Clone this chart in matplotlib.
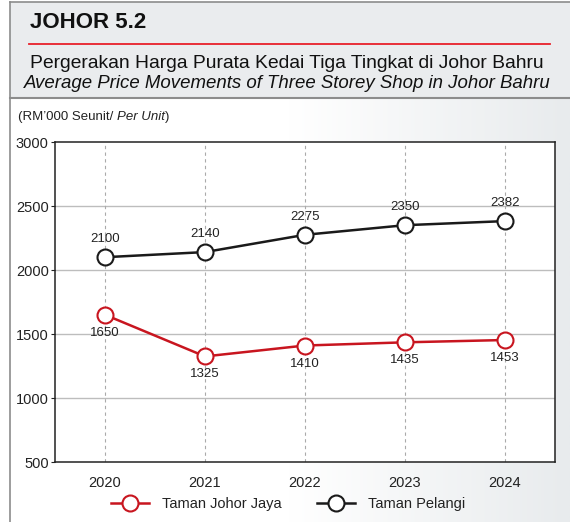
import numpy as np
import matplotlib
matplotlib.use("Agg")
import matplotlib.pyplot as plt
from matplotlib.patches import Rectangle
from matplotlib.lines import Line2D
from matplotlib.colors import LinearSegmentedColormap

plt.rcParams['font.family'] = ['Liberation Sans', 'DejaVu Sans']

years = ['2020', '2021', '2022', '2023', '2024']
johor_jaya = [1650, 1325, 1410, 1435, 1453]
pelangi = [2100, 2140, 2275, 2350, 2382]
series_names = ['Taman Johor Jaya', 'Taman Pelangi']
yticks = [500, 1000, 1500, 2000, 2500, 3000]

W, H = 570, 522
fig = plt.figure(figsize=(W / 100, H / 100), dpi=100)

def fx(px):
    return px / W

def fy(py):
    return 1 - py / H

# background
bg = fig.add_axes([0, 0, 1, 1], zorder=-10)
bg.set_xlim(0, W)
bg.set_ylim(H, 0)
bg.axis('off')
grad = np.linspace(0, 1, 256)[None, :]
cmap = LinearSegmentedColormap.from_list('g', ['#ffffff', '#ffffff', '#e8ebed'])
bg.imshow(grad, extent=[10, W, H, 98], cmap=cmap, aspect='auto', zorder=0)
bg.add_patch(Rectangle((10, 2), W, 96, facecolor='#eaecee', edgecolor='none', zorder=1))
bg.plot([10, W], [2, 2], color='#8c8c8c', lw=1.2, zorder=2)
bg.plot([10, W], [98, 98], color='#8c8c8c', lw=1.5, zorder=2)
bg.plot([10, 10], [2, H], color='#8c8c8c', lw=1.2, zorder=2)
bg.plot([29, 550], [44, 44], color='#e8202a', lw=1.3, zorder=2)

bg.text(30, 22, 'JOHOR 5.2', fontsize=16, fontweight='bold', color='#111111',
        ha='left', va='center', zorder=3)
bg.text(287, 64, 'Pergerakan Harga Purata Kedai Tiga Tingkat di Johor Bahru',
        fontsize=13.9, color='#111111', ha='center', va='center', zorder=3)
bg.text(287, 83, 'Average Price Movements of Three Storey Shop in Johor Bahru',
        fontsize=13.4, style='italic', color='#111111', ha='center', va='center', zorder=3)

fs_unit = 9.5
t1 = bg.text(18, 117, '(RM\u2019000 Seunit/ ', fontsize=fs_unit, color='#222222',
             ha='left', va='center', zorder=3)
fig.canvas.draw()
inv = bg.transData.inverted()
bb = t1.get_window_extent()
xd = inv.transform((bb.x1, bb.y0))[0]
t2 = bg.text(xd, 117, 'Per Unit', fontsize=fs_unit, style='italic', color='#222222',
             ha='left', va='center', zorder=3)
fig.canvas.draw()
bb2 = t2.get_window_extent()
xd2 = inv.transform((bb2.x1, bb2.y0))[0]
bg.text(xd2, 117, ')', fontsize=fs_unit, color='#222222', ha='left', va='center', zorder=3)

# main axes
L, R, T, B = 55, 555, 142, 462
ax = fig.add_axes([fx(L), fy(B), fx(R - L), (B - T) / H])
ax.set_facecolor('white')
x = np.arange(len(years))
red = '#c8151f'
black = '#1a1a1a'
ax.plot(x, johor_jaya, color=red, lw=1.8, marker='o', ms=11.5, mfc='white',
        mec=red, mew=1.5, zorder=4)
ax.plot(x, pelangi, color=black, lw=1.8, marker='o', ms=11.5, mfc='white',
        mec=black, mew=1.5, zorder=4)
for xi, v in zip(x, pelangi):
    ax.annotate(str(v), (xi, v), xytext=(0, 13), textcoords='offset points',
                ha='center', va='center', fontsize=9.5, color='#222222')
for xi, v in zip(x, johor_jaya):
    ax.annotate(str(v), (xi, v), xytext=(0, -13), textcoords='offset points',
                ha='center', va='center', fontsize=9.5, color='#222222')

ax.set_xlim(-0.5, 4.5)
ax.set_ylim(500, 3000)
ax.set_yticks(yticks)
ax.set_xticks(x)
ax.set_xticklabels(years)
ax.tick_params(axis='x', length=0, pad=10, labelsize=10.5, colors='#222222')
ax.tick_params(axis='y', length=3, pad=1.5, labelsize=10.5, colors='#222222')
for v in yticks[1:-1]:
    ax.axhline(v, color='#bdbdbd', lw=1, zorder=1)
for xi in x:
    ax.axvline(xi, color='#aaaaaa', lw=0.8, ls=(0, (3, 3)), zorder=1)
for s in ax.spines.values():
    s.set_color('#222222')
    s.set_linewidth(1.1)

handles = [
    Line2D([], [], color=red, lw=1.8, marker='o', ms=11.5, mfc='white', mec=red, mew=1.5),
    Line2D([], [], color=black, lw=1.8, marker='o', ms=11.5, mfc='white', mec=black, mew=1.5),
]
fig.legend(handles, series_names, loc='center', bbox_to_anchor=(fx(288), fy(504)),
           ncol=2, frameon=False, fontsize=10.5, handlelength=2.6, columnspacing=2.4,
           handletextpad=0.9, labelcolor='#222222')

fig.savefig('out.png', dpi=100)
